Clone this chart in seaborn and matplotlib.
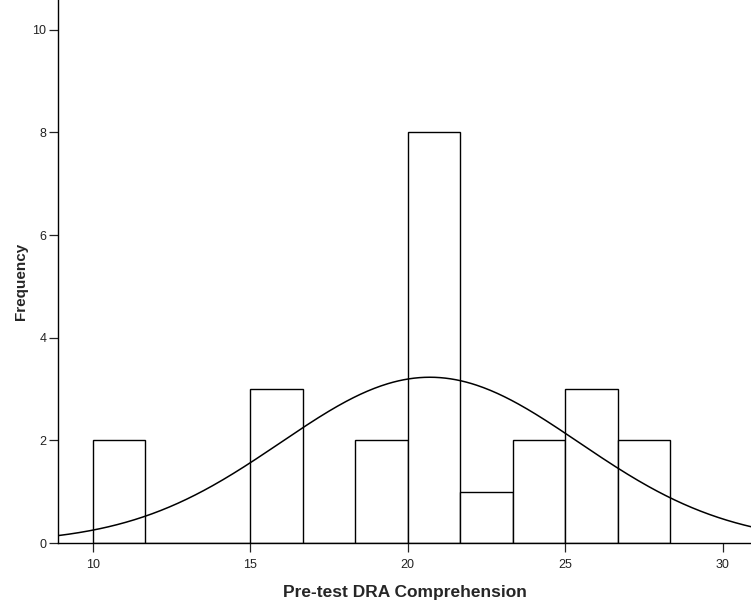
import numpy as np
import pandas as pd
import matplotlib
matplotlib.use("Agg")
import matplotlib.pyplot as plt
import seaborn as sns

# ─────────────────────────────────────────────
# DATA
# ─────────────────────────────────────────────
BIN_START = 10.0
BIN_WIDTH = 5.0 / 3.0
counts = [2, 0, 0, 3, 0, 2, 8, 1, 2, 3, 2]
curve_mean = 20.7
curve_sd = 4.735
x_ticks = [10, 15, 20, 25, 30]
y_ticks = [0, 2, 4, 6, 8, 10]
X_LABEL = "Pre-test DRA Comprehension"
Y_LABEL = "Frequency"
# ─────────────────────────────────────────────

n_total = sum(counts)
bin_end = BIN_START + BIN_WIDTH * len(counts)
centers = BIN_START + BIN_WIDTH * (np.arange(len(counts)) + 0.5)
df = pd.DataFrame({"score": centers, "n": counts})

sns.set_style("ticks")
plt.rcParams["font.family"] = ["Liberation Sans", "DejaVu Sans"]

fig = plt.figure(figsize=(7.51, 6.04), dpi=100)
ax = fig.add_axes([58 / 751, 61 / 604, 1 - 58 / 751, 1 - 61 / 604])

sns.histplot(data=df, x="score", weights="n", binwidth=BIN_WIDTH,
             binrange=(BIN_START, bin_end), ax=ax,
             color="white", edgecolor="black", linewidth=1.0, alpha=1.0)

# fitted normal curve, scaled to counts
xs = np.linspace(8.89, 30.9, 400)
ys = n_total * BIN_WIDTH / (curve_sd * np.sqrt(2 * np.pi)) * np.exp(-0.5 * ((xs - curve_mean) / curve_sd) ** 2)
sns.lineplot(x=xs, y=ys, ax=ax, color="black", linewidth=1.1)

ax.set_xlim(8.89, 30.9)
ax.set_ylim(0, 10.58)
ax.set_xticks(x_ticks)
ax.set_yticks(y_ticks)
ax.tick_params(axis="both", labelsize=9, length=6.5, width=0.9, color="#222222", labelcolor="#222222")
ax.tick_params(axis="y", pad=2)
ax.tick_params(axis="x", pad=5)

for s in ["top", "right"]:
    ax.spines[s].set_visible(False)
for s in ["left", "bottom"]:
    ax.spines[s].set_linewidth(1.0)
    ax.spines[s].set_color("black")

ax.set_xlabel(X_LABEL, fontsize=12.5, fontweight="bold", labelpad=10)
ax.set_ylabel(Y_LABEL, fontsize=11, fontweight="bold")
ax.yaxis.set_label_coords(-30 / 693, 262 / 543)

fig.savefig("out.png", dpi=100)
